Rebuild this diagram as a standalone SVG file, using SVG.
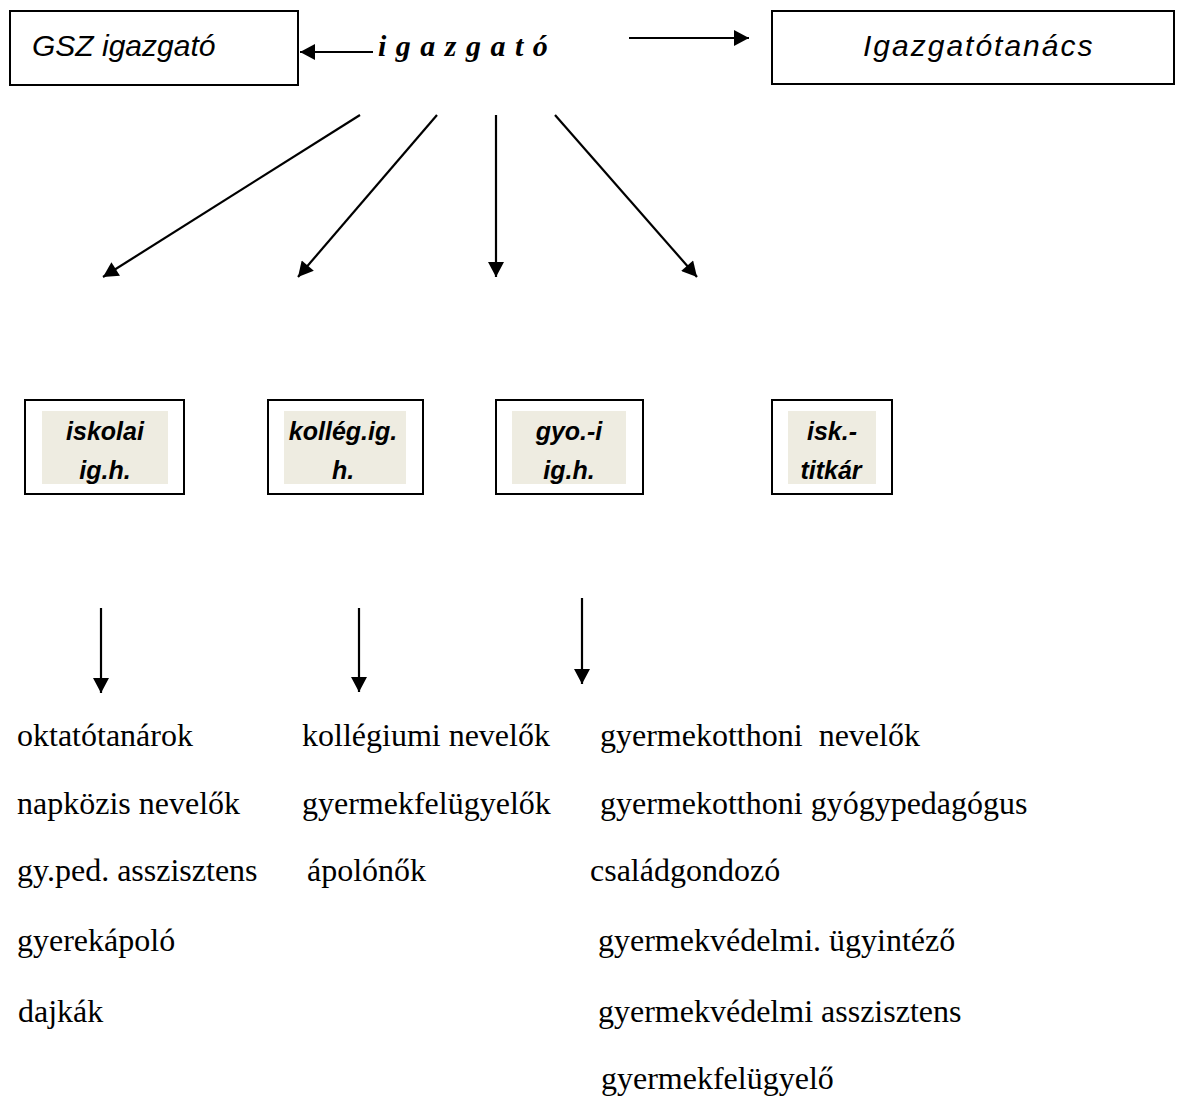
<svg xmlns="http://www.w3.org/2000/svg" width="1179" height="1098" viewBox="0 0 1179 1098">
  <style>
    .box { fill: #ffffff; stroke: #000000; stroke-width: 2; }
    .inner { fill: #EEECE1; stroke: none; }
    .top { font-family: "Liberation Sans", Arial, sans-serif; font-style: italic; font-size: 30px; fill: #000; }
    .lbl { font-family: "Liberation Sans", Arial, sans-serif; font-style: italic; font-weight: bold; font-size: 25px; fill: #000; text-anchor: middle; }
    .head { font-family: "Liberation Serif", "Times New Roman", serif; font-style: italic; font-weight: bold; font-size: 30px; fill: #000; letter-spacing: 1px; }
    .list { font-family: "Liberation Serif", "Times New Roman", serif; font-size: 32px; fill: #000; white-space: pre; }
    .conn line { stroke: #000; stroke-width: 2.2; fill: none; marker-end: url(#ah); }
  </style>
  <defs>
    <marker id="ah" markerUnits="userSpaceOnUse" markerWidth="16" markerHeight="16" viewBox="0 0 15 16" refX="15" refY="8" orient="auto">
      <path d="M0,0 L15,8 L0,16 Z" fill="#000"/>
    </marker>
  </defs>
  <rect width="1179" height="1098" fill="#ffffff"/>

  <g id="gsz-igazgato">
    <rect class="box" x="10" y="11" width="288" height="74"/>
    <text class="top" x="32" y="56">GSZ igazgató</text>
  </g>

  <g id="igazgato">
    <text class="head" x="378" y="56">i g a z g a t ó</text>
  </g>

  <g id="igazgatotanacs">
    <rect class="box" x="772" y="11" width="402" height="73"/>
    <text class="top" x="863" y="56" letter-spacing="2">Igazgatótanács</text>
  </g>

  <g id="iskolai-igh">
    <rect class="box" x="25" y="400" width="159" height="94"/>
    <rect class="inner" x="42" y="411" width="126" height="73"/>
    <text class="lbl" x="105" y="440">iskolai</text>
    <text class="lbl" x="105" y="479">ig.h.</text>
  </g>

  <g id="kolleg-igh">
    <rect class="box" x="268" y="400" width="155" height="94"/>
    <rect class="inner" x="284" y="411" width="122" height="73"/>
    <text class="lbl" x="343" y="440">kollég.ig.</text>
    <text class="lbl" x="343" y="479">h.</text>
  </g>

  <g id="gyo-igh">
    <rect class="box" x="496" y="400" width="147" height="94"/>
    <rect class="inner" x="512" y="411" width="114" height="73"/>
    <text class="lbl" x="569" y="440">gyo.-i</text>
    <text class="lbl" x="569" y="479">ig.h.</text>
  </g>

  <g id="isk-titkar">
    <rect class="box" x="772" y="400" width="120" height="94"/>
    <rect class="inner" x="788" y="411" width="88" height="73"/>
    <text class="lbl" x="832" y="440">isk.-</text>
    <text class="lbl" x="831" y="479">titkár</text>
  </g>

  <g id="list-iskolai">
    <text class="list" x="17" y="746">oktatótanárok</text>
    <text class="list" x="17" y="814">napközis nevelők</text>
    <text class="list" x="17" y="881">gy.ped. asszisztens</text>
    <text class="list" x="17" y="951">gyerekápoló</text>
    <text class="list" x="18" y="1022">dajkák</text>
  </g>

  <g id="list-kolleg">
    <text class="list" x="302" y="746">kollégiumi nevelők</text>
    <text class="list" x="302" y="814">gyermekfelügyelők</text>
    <text class="list" x="307" y="881">ápolónők</text>
  </g>

  <g id="list-gyo">
    <text class="list" x="600" y="746" xml:space="preserve">gyermekotthoni  nevelők</text>
    <text class="list" x="600" y="814">gyermekotthoni gyógypedagógus</text>
    <text class="list" x="590" y="881">családgondozó</text>
    <text class="list" x="598" y="951">gyermekvédelmi. ügyintéző</text>
    <text class="list" x="598" y="1022">gyermekvédelmi asszisztens</text>
    <text class="list" x="601" y="1089">gyermekfelügyelő</text>
  </g>

  <g id="connectors" class="conn">
    <line x1="373" y1="52" x2="300" y2="52"/>
    <line x1="629" y1="38" x2="749" y2="38"/>
    <line x1="360" y1="115" x2="103" y2="277"/>
    <line x1="437" y1="115" x2="298" y2="277"/>
    <line x1="496" y1="115" x2="496" y2="277"/>
    <line x1="555" y1="115" x2="697" y2="277"/>
    <line x1="101" y1="608" x2="101" y2="693"/>
    <line x1="359" y1="608" x2="359" y2="692"/>
    <line x1="582" y1="598" x2="582" y2="684"/>
  </g>
</svg>
